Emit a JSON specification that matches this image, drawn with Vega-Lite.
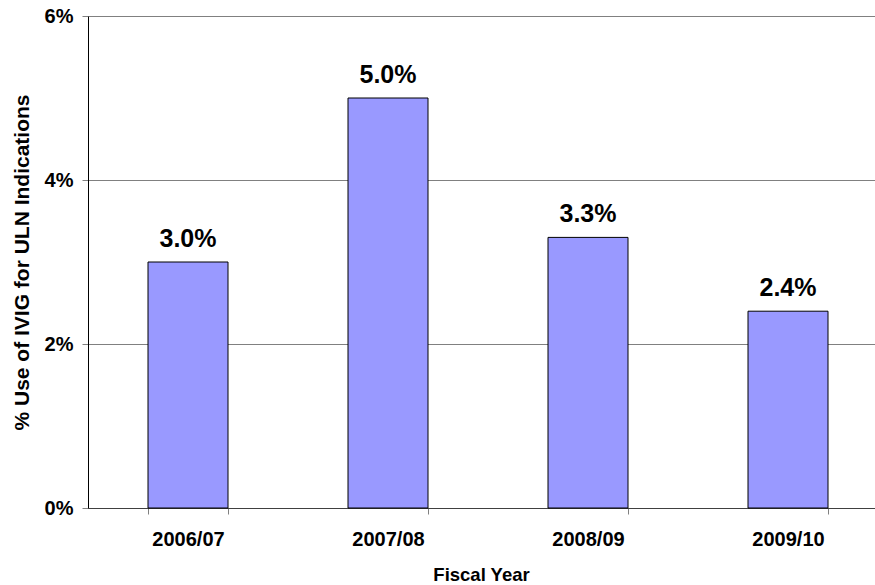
{
  "$schema": "https://vega.github.io/schema/vega-lite/v6.json",
  "width": 787,
  "height": 492,
  "autosize": {"type": "none"},
  "padding": {"left": 88, "top": 16, "right": 0, "bottom": 77},
  "background": "white",
  "config": {
    "view": {"stroke": null},
    "font": "Liberation Sans"
  },
  "data": {
    "values": [
      {"year": "2006/07", "share": 0.030},
      {"year": "2007/08", "share": 0.050},
      {"year": "2008/09", "share": 0.033},
      {"year": "2009/10", "share": 0.024}
    ]
  },
  "encoding": {
    "x": {
      "field": "year",
      "type": "nominal",
      "sort": null,
      "scale": {"range": [0, 800], "paddingInner": 0.6, "paddingOuter": 0.3},
      "axis": {
        "title": "Fiscal Year",
        "titleFont": "Liberation Sans",
        "titleFontSize": 18.5,
        "titleFontWeight": "bold",
        "titleColor": "black",
        "titlePadding": 16,
        "titleX": 393,
        "labelAngle": 0,
        "labelFont": "Liberation Sans",
        "labelFontSize": 20,
        "labelFontWeight": "bold",
        "labelColor": "black",
        "labelPadding": 15,
        "tickBand": "extent",
        "tickSize": 6,
        "tickColor": "#808080",
        "domainColor": "#404040",
        "grid": false
      }
    },
    "y": {
      "field": "share",
      "type": "quantitative",
      "scale": {"domain": [0, 0.06]},
      "axis": {
        "title": "% Use of IVIG for ULN Indications",
        "titleFont": "Liberation Sans",
        "titleFontSize": 21,
        "titleFontWeight": "bold",
        "titleColor": "black",
        "titlePadding": 12,
        "format": ".0%",
        "values": [0, 0.02, 0.04, 0.06],
        "labelFont": "Liberation Sans",
        "labelFontSize": 20,
        "labelFontWeight": "bold",
        "labelColor": "black",
        "labelPadding": 9,
        "tickSize": 6,
        "tickColor": "#808080",
        "domainColor": "black",
        "grid": true,
        "gridColor": "#808080",
        "gridOpacity": 1
      }
    }
  },
  "layer": [
    {
      "mark": {"type": "bar", "color": "#9999FF", "stroke": "black", "strokeWidth": 1}
    },
    {
      "mark": {
        "type": "text",
        "dy": -15,
        "baseline": "alphabetic",
        "font": "Liberation Sans",
        "fontSize": 25,
        "fontWeight": "bold",
        "color": "black"
      },
      "encoding": {
        "text": {"field": "share", "type": "quantitative", "format": ".1%"}
      }
    }
  ]
}
